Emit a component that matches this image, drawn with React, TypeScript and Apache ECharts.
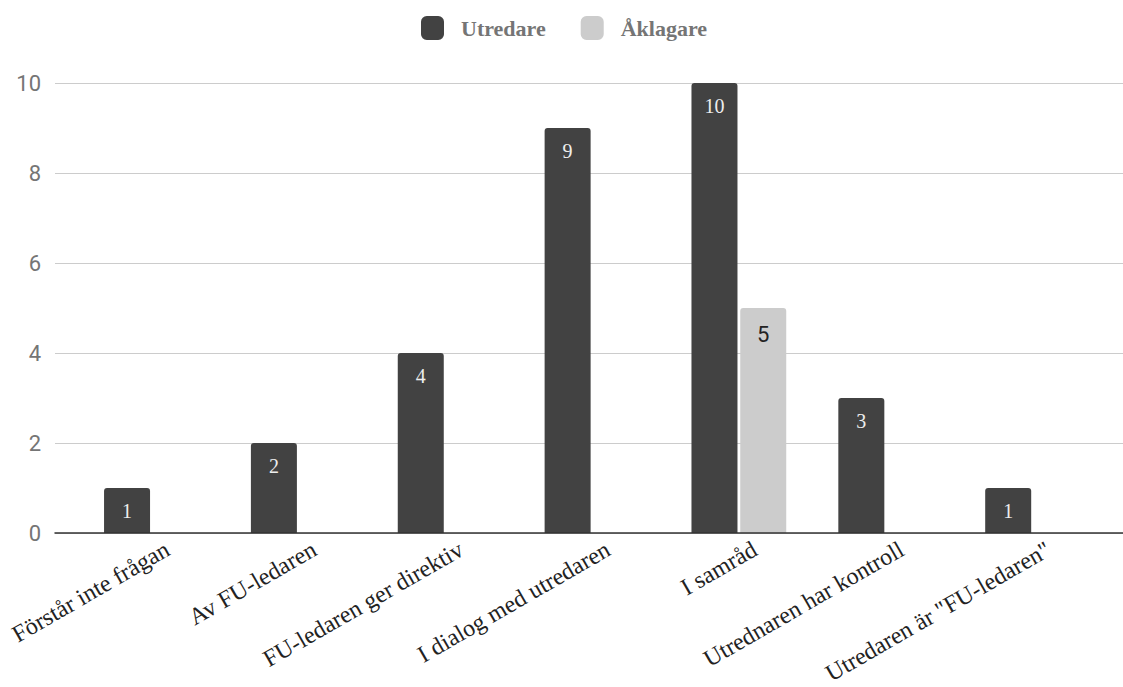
import React, { useEffect, useRef } from "react";
import * as echarts from "echarts";

const categories = [
  "Förstår inte frågan",
  "Av FU-ledaren",
  "FU-ledaren ger direktiv",
  "I dialog med utredaren",
  "I samråd",
  "Utrednaren har kontroll",
  'Utredaren är "FU-ledaren"',
];
const utredare = [1, 2, 4, 9, 10, 3, 1];
const aklagare = [null, null, null, null, 5, null, null];
const seriesNames = ["Utredare", "Åklagare"];
const yMin = 0;
const yMax = 10;
const yInterval = 2;

const SERIF = "'Liberation Serif', 'DejaVu Serif', serif";
const SANS = "Roboto, 'Liberation Sans', Arial, sans-serif";

export default function App() {
  const ref = useRef<HTMLDivElement>(null);
  useEffect(() => {
    if (!ref.current) return;
    const chart = echarts.init(ref.current, null, { renderer: "svg" });
    const top = 83;
    const bottom = 154;
    const hiddenAxis = {
      axisLine: { show: false },
      axisTick: { show: false },
      axisLabel: { show: false },
      splitLine: { show: false },
    };
    chart.setOption({
      animation: false,
      backgroundColor: "#ffffff",
      legend: {
        data: seriesNames,
        left: 416,
        top: 11,
        itemWidth: 23,
        itemHeight: 24,
        itemGap: 35,
        icon: "roundRect",
        textStyle: {
          color: "#757575",
          fontFamily: SERIF,
          fontWeight: "bold",
          fontSize: 22,
          padding: [0, 0, 0, 12],
        },
      },
      grid: [
        { left: 55, right: 0, top, bottom, containLabel: false },
        { left: 78, right: 17, top, bottom, containLabel: false },
        { left: 94, right: 1, top, bottom, containLabel: false },
      ],
      xAxis: [
        {
          type: "category",
          gridIndex: 0,
          data: categories,
          axisLine: { show: true, lineStyle: { color: "#333333", width: 1.5 } },
          axisTick: { show: false },
          axisLabel: { show: false },
          splitLine: { show: false },
          z: 5,
        },
        {
          type: "category",
          gridIndex: 1,
          data: categories,
          ...hiddenAxis,
        },
        {
          type: "category",
          gridIndex: 2,
          data: categories,
          axisLine: { show: false },
          axisTick: { show: false },
          splitLine: { show: false },
          axisLabel: {
            show: true,
            interval: 0,
            rotate: 30,
            margin: 28,
            color: "#222222",
            fontFamily: SERIF,
            fontSize: 24,
          },
        },
      ],
      yAxis: [
        {
          type: "value",
          gridIndex: 0,
          min: yMin,
          max: yMax,
          interval: yInterval,
          axisLine: { show: false },
          axisTick: { show: false },
          axisLabel: {
            color: "#757575",
            fontFamily: SANS,
            fontSize: 22,
            margin: 14,
          },
          splitLine: { show: true, lineStyle: { color: "#cccccc", width: 1 } },
        },
        { type: "value", gridIndex: 1, min: yMin, max: yMax, interval: yInterval, ...hiddenAxis },
        { type: "value", gridIndex: 2, min: yMin, max: yMax, interval: yInterval, ...hiddenAxis },
      ],
      series: [
        {
          name: seriesNames[0],
          type: "bar",
          xAxisIndex: 1,
          yAxisIndex: 1,
          data: utredare,
          barWidth: 46,
          barGap: "6%",
          itemStyle: { color: "#424242", borderRadius: [3, 3, 0, 0] },
          label: {
            show: true,
            position: "insideTop",
            distance: 13,
            color: "#eeeeee",
            fontFamily: SERIF,
            fontSize: 20,
          },
          z: 3,
        },
        {
          name: seriesNames[1],
          type: "bar",
          xAxisIndex: 1,
          yAxisIndex: 1,
          data: aklagare,
          barWidth: 46,
          itemStyle: { color: "#cccccc", borderRadius: [3, 3, 0, 0] },
          label: {
            show: true,
            position: "insideTop",
            distance: 15,
            color: "#222222",
            fontFamily: SANS,
            fontSize: 22,
          },
          z: 3,
        },
      ],
    });
    return () => chart.dispose();
  }, []);
  return (
    <div
      ref={ref}
      style={{ position: "fixed", left: 0, top: 0, width: 1123, height: 687 }}
    />
  );
}
